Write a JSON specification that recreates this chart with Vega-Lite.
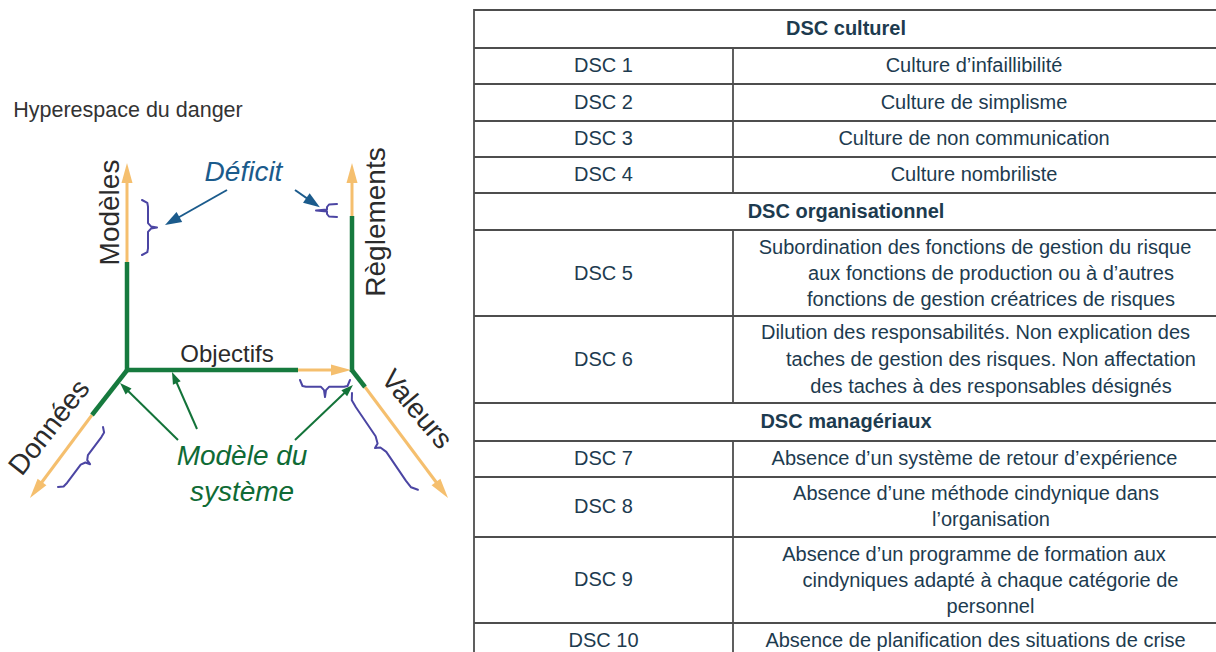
{
  "$schema": "https://vega.github.io/schema/vega-lite/v6.json",
  "width": 1216,
  "height": 652,
  "padding": 0,
  "autosize": "none",
  "background": "white",
  "config": {"view": {"stroke": null}},
  "datasets": {
    "tableau": [
      {"x": 474, "y": 10, "x2": 1216, "y2": 10},
      {"x": 474, "y": 48, "x2": 1216, "y2": 48},
      {"x": 474, "y": 84, "x2": 1216, "y2": 84},
      {"x": 474, "y": 121, "x2": 1216, "y2": 121},
      {"x": 474, "y": 157, "x2": 1216, "y2": 157},
      {"x": 474, "y": 193, "x2": 1216, "y2": 193},
      {"x": 474, "y": 230, "x2": 1216, "y2": 230},
      {"x": 474, "y": 316, "x2": 1216, "y2": 316},
      {"x": 474, "y": 403, "x2": 1216, "y2": 403},
      {"x": 474, "y": 441, "x2": 1216, "y2": 441},
      {"x": 474, "y": 477, "x2": 1216, "y2": 477},
      {"x": 474, "y": 537, "x2": 1216, "y2": 537},
      {"x": 474, "y": 623, "x2": 1216, "y2": 623},
      {"x": 474, "y": 9, "x2": 474, "y2": 660},
      {"x": 733, "y": 48, "x2": 733, "y2": 193},
      {"x": 733, "y": 230, "x2": 733, "y2": 403},
      {"x": 733, "y": 441, "x2": 733, "y2": 660}
    ],
    "cellules": [
      {"texte": "DSC culturel", "x": 846, "y": 29, "type": "titre"},
      {"texte": "DSC organisationnel", "x": 846, "y": 211.5, "type": "titre"},
      {"texte": "DSC managériaux", "x": 846, "y": 422, "type": "titre"},
      {"texte": "DSC 1", "x": 603.5, "y": 66, "type": "code"},
      {"texte": "DSC 2", "x": 603.5, "y": 102.5, "type": "code"},
      {"texte": "DSC 3", "x": 603.5, "y": 139, "type": "code"},
      {"texte": "DSC 4", "x": 603.5, "y": 175, "type": "code"},
      {"texte": "DSC 5", "x": 603.5, "y": 274, "type": "code"},
      {"texte": "DSC 6", "x": 603.5, "y": 360, "type": "code"},
      {"texte": "DSC 7", "x": 603.5, "y": 459, "type": "code"},
      {"texte": "DSC 8", "x": 603.5, "y": 507, "type": "code"},
      {"texte": "DSC 9", "x": 603.5, "y": 580, "type": "code"},
      {"texte": "DSC 10", "x": 603.5, "y": 641, "type": "code"},
      {"texte": "Culture d’infaillibilité", "x": 974, "y": 66, "type": "libelle"},
      {"texte": "Culture de simplisme", "x": 974, "y": 102.5, "type": "libelle"},
      {"texte": "Culture de non communication", "x": 974, "y": 139, "type": "libelle"},
      {"texte": "Culture nombriliste", "x": 974, "y": 175, "type": "libelle"},
      {"texte": "Subordination des fonctions de gestion du risque", "x": 975, "y": 248, "type": "libelle"},
      {"texte": "aux fonctions de production ou à d’autres", "x": 991, "y": 274, "type": "libelle"},
      {"texte": "fonctions de gestion créatrices de risques", "x": 991, "y": 300, "type": "libelle"},
      {"texte": "Dilution des responsabilités. Non explication des", "x": 975.5, "y": 333, "type": "libelle"},
      {"texte": "taches de gestion des risques. Non affectation", "x": 991, "y": 360, "type": "libelle"},
      {"texte": "des taches à des responsables désignés", "x": 991, "y": 387, "type": "libelle"},
      {"texte": "Absence d’un système de retour d’expérience", "x": 974.5, "y": 459, "type": "libelle"},
      {"texte": "Absence d’une méthode cindynique dans", "x": 976, "y": 494, "type": "libelle"},
      {"texte": "l’organisation", "x": 991, "y": 520, "type": "libelle"},
      {"texte": "Absence d’un programme de formation aux", "x": 974, "y": 555, "type": "libelle"},
      {"texte": "cindyniques adapté à chaque catégorie de", "x": 990.5, "y": 581, "type": "libelle"},
      {"texte": "personnel", "x": 990.5, "y": 607, "type": "libelle"},
      {"texte": "Absence de planification des situations de crise", "x": 975.5, "y": 641, "type": "libelle"}
    ],
    "axes": [
      {"x": 127, "y": 262, "x2": 127, "y2": 175, "partie": "deficit"},
      {"x": 352, "y": 216, "x2": 352, "y2": 175, "partie": "deficit"},
      {"x": 298, "y": 370, "x2": 340, "y2": 370, "partie": "deficit"},
      {"x": 92, "y": 415, "x2": 36, "y2": 490, "partie": "deficit"},
      {"x": 365, "y": 387, "x2": 442, "y2": 490, "partie": "deficit"},
      {"x": 127, "y": 372, "x2": 127, "y2": 262, "partie": "modele"},
      {"x": 352, "y": 372, "x2": 352, "y2": 216, "partie": "modele"},
      {"x": 125, "y": 370, "x2": 298, "y2": 370, "partie": "modele"},
      {"x": 128, "y": 369, "x2": 92, "y2": 415, "partie": "modele"},
      {"x": 351, "y": 369, "x2": 365, "y2": 387, "partie": "modele"}
    ],
    "fleches": [
      {"x": 227, "y": 190, "x2": 172.2, "y2": 221, "type": "deficit"},
      {"x": 295, "y": 190, "x2": 313.1, "y2": 202.6, "type": "deficit"},
      {"x": 178, "y": 440, "x2": 124.3, "y2": 387.2, "type": "modele"},
      {"x": 197, "y": 429, "x2": 174.4, "y2": 377.5, "type": "modele"},
      {"x": 295, "y": 440, "x2": 348.6, "y2": 389.1, "type": "modele"}
    ],
    "pointes": [
      {"x": 127, "y": 173, "angle": 0, "type": "axe"},
      {"x": 352, "y": 173, "angle": 0, "type": "axe"},
      {"x": 341, "y": 370, "angle": 90, "type": "axe"},
      {"x": 36, "y": 490, "angle": -143, "type": "axe"},
      {"x": 442, "y": 490, "angle": 143, "type": "axe"},
      {"x": 172.2, "y": 221, "angle": -119.5, "type": "deficit"},
      {"x": 313.1, "y": 202.6, "angle": 124.8, "type": "deficit"},
      {"x": 124.3, "y": 387.2, "angle": -45.5, "type": "modele"},
      {"x": 174.4, "y": 377.5, "angle": -23.7, "type": "modele"},
      {"x": 348.6, "y": 389.1, "angle": 46.6, "type": "modele"}
    ],
    "accolades": [
      {"id": "a1", "ordre": 1, "x": 142, "y": 200},
      {"id": "a1", "ordre": 2, "x": 147.3, "y": 202.8},
      {"id": "a1", "ordre": 3, "x": 148, "y": 206.6},
      {"id": "a1", "ordre": 4, "x": 148, "y": 223.1},
      {"id": "a1", "ordre": 5, "x": 151, "y": 226.4},
      {"id": "a1", "ordre": 6, "x": 157, "y": 227.5},
      {"id": "a1", "ordre": 7, "x": 151, "y": 228.6},
      {"id": "a1", "ordre": 8, "x": 148, "y": 231.9},
      {"id": "a1", "ordre": 9, "x": 148, "y": 248.4},
      {"id": "a1", "ordre": 10, "x": 147.3, "y": 252.2},
      {"id": "a1", "ordre": 11, "x": 142, "y": 255},
      {"id": "a2", "ordre": 1, "x": 300, "y": 380},
      {"id": "a2", "ordre": 2, "x": 302.5, "y": 386},
      {"id": "a2", "ordre": 3, "x": 306, "y": 386.8},
      {"id": "a2", "ordre": 4, "x": 321, "y": 386.8},
      {"id": "a2", "ordre": 5, "x": 324, "y": 390.2},
      {"id": "a2", "ordre": 6, "x": 325, "y": 397},
      {"id": "a2", "ordre": 7, "x": 326, "y": 390.2},
      {"id": "a2", "ordre": 8, "x": 329, "y": 386.8},
      {"id": "a2", "ordre": 9, "x": 344, "y": 386.8},
      {"id": "a2", "ordre": 10, "x": 347.5, "y": 386},
      {"id": "a2", "ordre": 11, "x": 350, "y": 380},
      {"id": "a3", "ordre": 1, "x": 337, "y": 204},
      {"id": "a3", "ordre": 2, "x": 329, "y": 204.5},
      {"id": "a3", "ordre": 3, "x": 327, "y": 207},
      {"id": "a3", "ordre": 4, "x": 327, "y": 209.5},
      {"id": "a3", "ordre": 5, "x": 316, "y": 210.5},
      {"id": "a3", "ordre": 6, "x": 327, "y": 211.5},
      {"id": "a3", "ordre": 7, "x": 327, "y": 214},
      {"id": "a3", "ordre": 8, "x": 329, "y": 216.5},
      {"id": "a3", "ordre": 9, "x": 337, "y": 217},
      {"id": "a4", "ordre": 1, "x": 103, "y": 427},
      {"id": "a4", "ordre": 2, "x": 104.1, "y": 432.5},
      {"id": "a4", "ordre": 3, "x": 101.4, "y": 437.1},
      {"id": "a4", "ordre": 4, "x": 87.9, "y": 455.1},
      {"id": "a4", "ordre": 5, "x": 87.2, "y": 460.1},
      {"id": "a4", "ordre": 6, "x": 90.1, "y": 464.2},
      {"id": "a4", "ordre": 7, "x": 85.4, "y": 462.5},
      {"id": "a4", "ordre": 8, "x": 80.7, "y": 464.7},
      {"id": "a4", "ordre": 9, "x": 67.2, "y": 482.7},
      {"id": "a4", "ordre": 10, "x": 63.6, "y": 486.5},
      {"id": "a4", "ordre": 11, "x": 58, "y": 487},
      {"id": "a5", "ordre": 1, "x": 352, "y": 393},
      {"id": "a5", "ordre": 2, "x": 351.8, "y": 400.2},
      {"id": "a5", "ordre": 3, "x": 355.9, "y": 407.3},
      {"id": "a5", "ordre": 4, "x": 375.6, "y": 436.2},
      {"id": "a5", "ordre": 5, "x": 377.6, "y": 443.4},
      {"id": "a5", "ordre": 6, "x": 375.0, "y": 448.1},
      {"id": "a5", "ordre": 7, "x": 380.4, "y": 447.5},
      {"id": "a5", "ordre": 8, "x": 386.3, "y": 451.9},
      {"id": "a5", "ordre": 9, "x": 406.0, "y": 480.9},
      {"id": "a5", "ordre": 10, "x": 411.1, "y": 487.3},
      {"id": "a5", "ordre": 11, "x": 417.9, "y": 489.8}
    ],
    "etiquettes": [
      {"texte": "Hyperespace du danger", "x": 128, "y": 111, "angle": 0, "groupe": "titre"},
      {"texte": "Objectifs", "x": 227, "y": 355, "angle": 0, "groupe": "objectifs"},
      {"texte": "Modèles", "x": 111, "y": 212.5, "angle": -90, "groupe": "axe"},
      {"texte": "Règlements", "x": 377, "y": 222, "angle": -90, "groupe": "axe"},
      {"texte": "Données", "x": 50, "y": 428, "angle": -52, "groupe": "axe"},
      {"texte": "Valeurs", "x": 416, "y": 410, "angle": 50, "groupe": "axe"},
      {"texte": "Déficit", "x": 243.5, "y": 173, "angle": 0, "groupe": "deficit"},
      {"texte": "Modèle du", "x": 242, "y": 457, "angle": 0, "groupe": "systeme"},
      {"texte": "système", "x": 242, "y": 493, "angle": 0, "groupe": "systeme"}
    ]
  },
  "encoding": {
    "x": {"field": "x", "type": "quantitative", "scale": {"domain": [0, 1216], "nice": false, "zero": false}, "axis": null},
    "y": {"field": "y", "type": "quantitative", "scale": {"domain": [0, 652], "nice": false, "zero": false, "reverse": true}, "axis": null}
  },
  "resolve": {"scale": {"color": "independent", "size": "independent", "shape": "independent"}},
  "layer": [
    {
      "data": {"name": "tableau"},
      "mark": {"type": "rule", "stroke": "#4d4d4d", "strokeWidth": 1.8},
      "encoding": {"x2": {"field": "x2"}, "y2": {"field": "y2"}}
    },
    {
      "data": {"name": "cellules"},
      "transform": [{"filter": "datum.type == 'titre'"}],
      "mark": {"type": "text", "font": "Liberation Sans", "fontSize": 20, "fontWeight": "bold", "fill": "#1d3b4f", "align": "center", "baseline": "middle"},
      "encoding": {"text": {"field": "texte"}}
    },
    {
      "data": {"name": "cellules"},
      "transform": [{"filter": "datum.type != 'titre'"}],
      "mark": {"type": "text", "font": "Liberation Sans", "fontSize": 20, "fill": "#1d3b4f", "align": "center", "baseline": "middle"},
      "encoding": {"text": {"field": "texte"}}
    },
    {
      "data": {"name": "axes"},
      "mark": {"type": "rule", "strokeCap": "butt"},
      "encoding": {
        "x2": {"field": "x2"}, "y2": {"field": "y2"},
        "color": {"field": "partie", "type": "nominal", "scale": {"domain": ["deficit", "modele"], "range": ["#f5bf6e", "#167a3e"]}, "legend": null},
        "size": {"field": "partie", "type": "nominal", "scale": {"domain": ["deficit", "modele"], "range": [3, 4.5]}, "legend": null}
      }
    },
    {
      "data": {"name": "fleches"},
      "mark": {"type": "rule", "strokeWidth": 2},
      "encoding": {
        "x2": {"field": "x2"}, "y2": {"field": "y2"},
        "color": {"field": "type", "type": "nominal", "scale": {"domain": ["deficit", "modele"], "range": ["#1b5b8c", "#137339"]}, "legend": null}
      }
    },
    {
      "data": {"name": "pointes"},
      "mark": {"type": "point", "filled": true, "opacity": 1, "strokeWidth": 0},
      "encoding": {
        "angle": {"field": "angle", "type": "quantitative", "scale": null},
        "shape": {"field": "type", "type": "nominal", "scale": {"domain": ["axe", "deficit", "modele"], "range": ["M0,-1L0.55,1L-0.55,1Z", "M0,-1L0.7,1L-0.7,1Z", "M0,-1L0.7,1L-0.7,1Z"]}, "legend": null},
        "size": {"field": "type", "type": "nominal", "scale": {"domain": ["axe", "deficit", "modele"], "range": [400, 144, 144]}, "legend": null},
        "color": {"field": "type", "type": "nominal", "scale": {"domain": ["axe", "deficit", "modele"], "range": ["#f5bf6e", "#1b5b8c", "#137339"]}, "legend": null}
      }
    },
    {
      "data": {"name": "accolades"},
      "mark": {"type": "line", "stroke": "#4b45a3", "strokeWidth": 2, "strokeJoin": "round", "strokeCap": "round"},
      "encoding": {
        "detail": {"field": "id"},
        "order": {"field": "ordre", "type": "quantitative"}
      }
    },
    {
      "data": {"name": "etiquettes"},
      "transform": [{"filter": "datum.groupe == 'titre'"}],
      "mark": {"type": "text", "font": "Liberation Sans", "fontSize": 21.5, "fill": "#333333", "align": "center", "baseline": "middle"},
      "encoding": {"text": {"field": "texte"}}
    },
    {
      "data": {"name": "etiquettes"},
      "transform": [{"filter": "datum.groupe == 'objectifs'"}],
      "mark": {"type": "text", "font": "Liberation Sans", "fontSize": 24, "fill": "#2b2b2b", "align": "center", "baseline": "middle"},
      "encoding": {"text": {"field": "texte"}}
    },
    {
      "data": {"name": "etiquettes"},
      "transform": [{"filter": "datum.groupe == 'axe'"}],
      "mark": {"type": "text", "font": "Liberation Sans", "fontSize": 28, "fill": "#2b2b2b", "align": "center", "baseline": "middle"},
      "encoding": {"text": {"field": "texte"}, "angle": {"field": "angle", "type": "quantitative", "scale": null}}
    },
    {
      "data": {"name": "etiquettes"},
      "transform": [{"filter": "datum.groupe == 'deficit' || datum.groupe == 'systeme'"}],
      "mark": {"type": "text", "font": "Liberation Sans", "fontSize": 28, "fontStyle": "italic", "align": "center", "baseline": "middle"},
      "encoding": {
        "text": {"field": "texte"},
        "color": {"field": "groupe", "type": "nominal", "scale": {"domain": ["deficit", "systeme"], "range": ["#1b5b8c", "#0f6b35"]}, "legend": null}
      }
    }
  ]
}
